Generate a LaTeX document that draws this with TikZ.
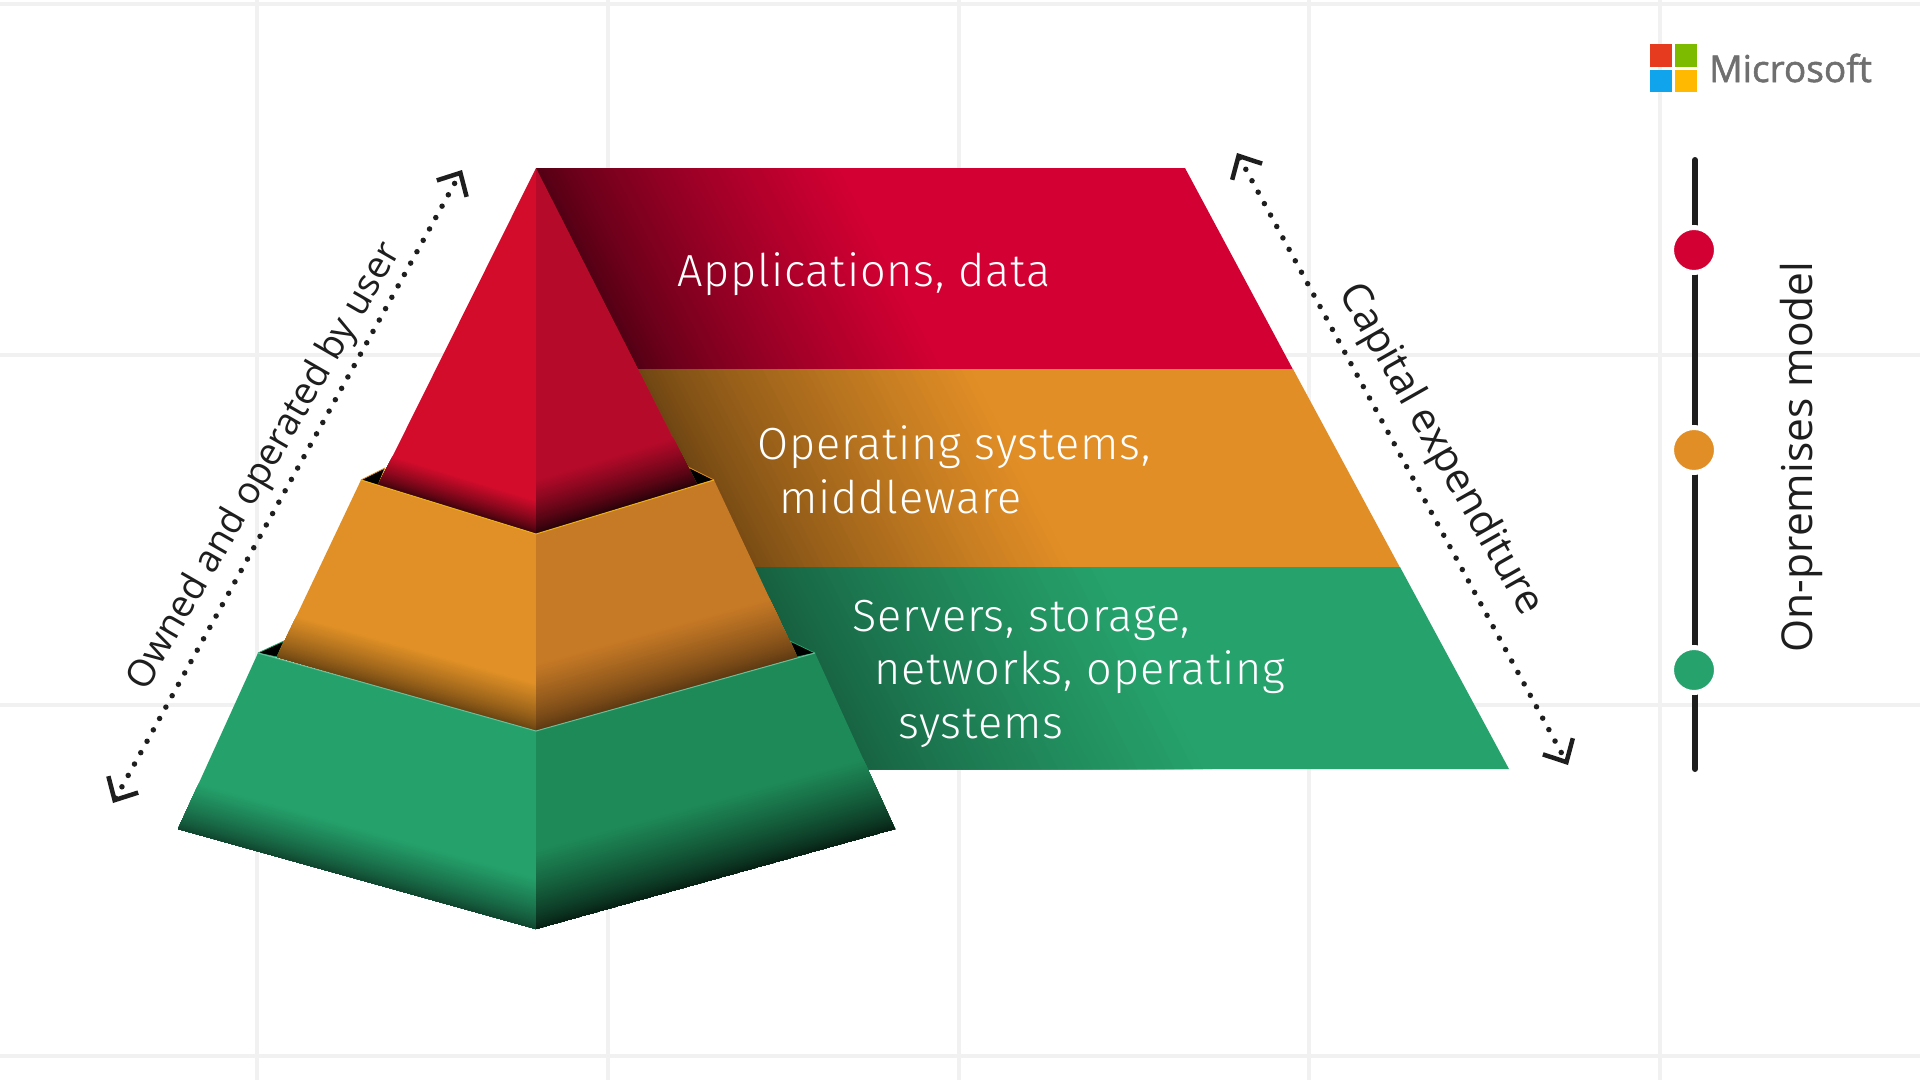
\documentclass[tikz,border=0pt]{standalone}
\usepackage{fontspec}
\setmainfont{Open Sans}
\newfontfamily\panelfont[LetterSpace=2]{Fira Sans Light}
\newfontfamily\logofont[FakeBold=1.5]{Open Sans}
\usetikzlibrary{arrows.meta,calc}

\definecolor{gridgray}{HTML}{F1F1F1}
\definecolor{inkgray}{HTML}{1E1E1E}
\definecolor{logogray}{HTML}{6F6F6F}
\definecolor{backred}{HTML}{D30033}
\definecolor{backorange}{HTML}{E28E26}
\definecolor{backgreen}{HTML}{26A26C}
\definecolor{leftred}{HTML}{D30C2C}
\definecolor{rightred}{HTML}{B60A2A}
\definecolor{leftorange}{HTML}{E09026}
\definecolor{rightorange}{HTML}{C77A26}
\definecolor{leftgreen}{HTML}{25A26C}
\definecolor{rightgreen}{HTML}{1E8A58}
\definecolor{logored}{HTML}{E63B1F}
\definecolor{logogreen}{HTML}{7DBB00}
\definecolor{logoblue}{HTML}{0FA4EC}
\definecolor{logoyellow}{HTML}{FFB900}

% Face #1 in colour #2, darkening to #6 percent at the edge (#3)-(#4), over #5 pt upwards
\newcommand{\edgeshade}[6]{%
	\begin{scope}
		\clip #1 -- cycle;
		\foreach \k [evaluate=\k as \pct using {#6+(100-#6)*\k/50}] in {50,49,...,1}
		\fill[{#2!\pct!black}] (#3) -- (#4)
		-- ([yshift={#5*pow(\k/50,1.3)*1pt}]#4) -- ([yshift={#5*pow(\k/50,1.3)*1pt}]#3) -- cycle;
	\end{scope}%
}
% Band #1 in colour #2, darkening to #6 percent at the line (#3)-(#4), over #5 pt to the right
\newcommand{\sideshade}[6]{%
	\begin{scope}
		\clip #1 -- cycle;
		\foreach \k [evaluate=\k as \pct using {#6+(100-#6)*\k/50}] in {50,49,...,1}
		\fill[{#2!\pct!black}] (#3) -- (#4)
		-- ([xshift={#5*pow(\k/50,1.3)*1pt}]#4) -- ([xshift={#5*pow(\k/50,1.3)*1pt}]#3) -- cycle;
	\end{scope}%
}

\begin{document}
\begin{tikzpicture}[x=1pt, y=-1pt,
	gridline/.style={gridgray, line width=4pt},
	paneltext/.style={white, anchor=base west, inner sep=0pt, font=\panelfont\fontsize{45}{45}\selectfont},
	sidetext/.style={inkgray, inner sep=0pt, font=\fontsize{#1}{#1}\selectfont},
	spanline/.style={inkgray, line width=5.5pt, line cap=round, dash pattern=on 0pt off 13pt,
		{Straight Barb[length=18pt, width=34pt, line width=4.5pt, line cap=butt]}-{Straight Barb[length=18pt, width=34pt, line width=4.5pt, line cap=butt]}},
	legenddot/.style={circle, draw=white, line width=5pt, inner sep=0pt, minimum size=45pt},
	slit/.style={fill=black, draw=#1, line width=0.8pt, line join=round}]
	\useasboundingbox (0,0) rectangle (1920,1080);
	\fill[white] (0,0) rectangle (1920,1080);
	
	% --- Grid ---
	\foreach \gx in {257,608,959,1309,1660}
	\draw[gridline] (\gx,0) -- (\gx,1080);
	\foreach \gy in {4,355,705,1056}
	\draw[gridline] (0,\gy) -- (1920,\gy);
	
	% --- Corners of the pyramid ---
	\coordinate (apex) at (536,168);
	\coordinate (apexLow) at (858,800);
	\coordinate (redL) at (378,485.5);
	\coordinate (redR) at (697,485);
	\coordinate (orangeL) at (361,480);
	\coordinate (orangeC) at (536,534);
	\coordinate (orangeR) at (714,480);
	\coordinate (greenL) at (258,653);
	\coordinate (greenC) at (536,731);
	\coordinate (greenR) at (815,653);
	\coordinate (baseL) at (178,829);
	\coordinate (baseC) at (536,929);
	\coordinate (baseR) at (895,829);
	
	% --- Back panel ---
	\fill[backred] (apex) -- (1185,168) -- (1293,369.5) -- (638,369.5) -- cycle;
	\sideshade{(apex) -- (1185,168) -- (1293,369.5) -- (638,369.5)}{backred}{apex}{apexLow}{310}{38}
	\fill[backorange] (600,369) -- (1293,369) -- (1400,567.5) -- (700,567.5) -- cycle;
	\sideshade{(600,369) -- (1293,369) -- (1400,567.5) -- (700,567.5)}{backorange}{apex}{apexLow}{340}{48}
	\fill[backgreen] (700,567) -- (1400,567) -- (1509,769) -- (800,769) -- cycle;
	\sideshade{(700,567) -- (1400,567) -- (1509,769) -- (800,769)}{backgreen}{apex}{apexLow}{370}{55}
	
	% --- Slits behind the steps ---
	\fill[slit=backorange] (orangeL) -- (385,468) -- (redL) -- cycle;
	\fill[slit=backorange] (orangeR) -- (688,467) -- (redR) -- cycle;
	\fill[slit=backgreen] (greenL) -- (284,641) -- (277,657) -- cycle;
	\fill[slit=backgreen] (greenR) -- (790,641) -- (797,657) -- cycle;
	
	% --- Red faces ---
	\fill[leftred] (apex) -- (redL) -- (orangeC) -- cycle;
	\fill[rightred] (apex) -- (orangeC) -- (redR) -- cycle;
	\edgeshade{(apex) -- (redL) -- (orangeC)}{leftred}{redL}{orangeC}{34}{25}
	\edgeshade{(apex) -- (orangeC) -- (redR)}{rightred}{orangeC}{redR}{55}{18}
	
	% --- Orange faces ---
	\fill[leftorange] (orangeL) -- (orangeC) -- (greenC) -- (277,657) -- cycle;
	\fill[rightorange] (orangeC) -- (orangeR) -- (797,657) -- (greenC) -- cycle;
	\edgeshade{(orangeL) -- (orangeC) -- (greenC) -- (277,657)}{leftorange}{greenL}{greenC}{48}{45}
	\edgeshade{(orangeC) -- (orangeR) -- (797,657) -- (greenC)}{rightorange}{greenC}{greenR}{68}{45}
	\draw[backorange!70!yellow, line width=1pt] (orangeL) -- (orangeC) -- (orangeR);
	
	% --- Green faces ---
	\fill[leftgreen] (greenL) -- (greenC) -- (baseC) -- (baseL) -- cycle;
	\fill[rightgreen] (greenC) -- (greenR) -- (baseR) -- (baseC) -- cycle;
	\edgeshade{(greenL) -- (greenC) -- (baseC) -- (baseL)}{leftgreen}{baseL}{baseC}{52}{42}
	\edgeshade{(greenC) -- (greenR) -- (baseR) -- (baseC)}{rightgreen}{baseC}{baseR}{80}{22}
	\draw[backgreen!70!white, line width=1pt] (greenL) -- (greenC) -- (greenR);
	
	% --- Panel labels ---
	\node[paneltext] (appsLabel) at (677,286) {Applications, data};
	\node[paneltext] (osLabel) at (757,459) {Operating systems,};
	\node[paneltext] (midLabel) at (779,513) {middleware};
	\node[paneltext] (srvLabel) at (852,631) {Servers, storage,};
	\node[paneltext] (netLabel) at (874,684) {networks, operating};
	\node[paneltext] (sysLabel) at (898,738) {systems};
	
	% --- Side arrows and their labels ---
	\coordinate (ownedLow) at (113,803);
	\coordinate (ownedHigh) at (462,170);
	\draw[spanline] (ownedLow) -- (ownedHigh);
	\node[sidetext=37.5, rotate=60] (ownedLabel) at (265,467) {Owned and operated by user};
	
	\coordinate (capHigh) at (1237,153);
	\coordinate (capLow) at (1568,765);
	\draw[spanline] (capHigh) -- (capLow);
	\node[sidetext=41, rotate=-60.5] (capLabel) at (1440,450) {Capital expenditure};
	
	% --- Legend ---
	\coordinate (legendTop) at (1695,160);
	\coordinate (legendBottom) at (1695,769);
	\draw[inkgray, line width=6pt, line cap=round] (legendTop) -- (legendBottom);
	\node[legenddot, fill=backred] (dotRed) at (1694,250) {};
	\node[legenddot, fill=backorange] (dotOrange) at (1694,450) {};
	\node[legenddot, fill=backgreen] (dotGreen) at (1694,670) {};
	\node[sidetext=42.5, rotate=90] (modelLabel) at (1801,457) {On-premises model};
	
	% --- Logo ---
	\fill[logored] (1650,44) rectangle (1672,67);
	\fill[logogreen] (1675,44) rectangle (1697,67);
	\fill[logoblue] (1650,70) rectangle (1672,92);
	\fill[logoyellow] (1675,70) rectangle (1697,92);
	\node[logogray, anchor=base west, inner sep=0pt, font=\logofont\fontsize{37}{37}\selectfont] (logoText) at (1709,82) {Microsoft};
\end{tikzpicture}
\end{document}
